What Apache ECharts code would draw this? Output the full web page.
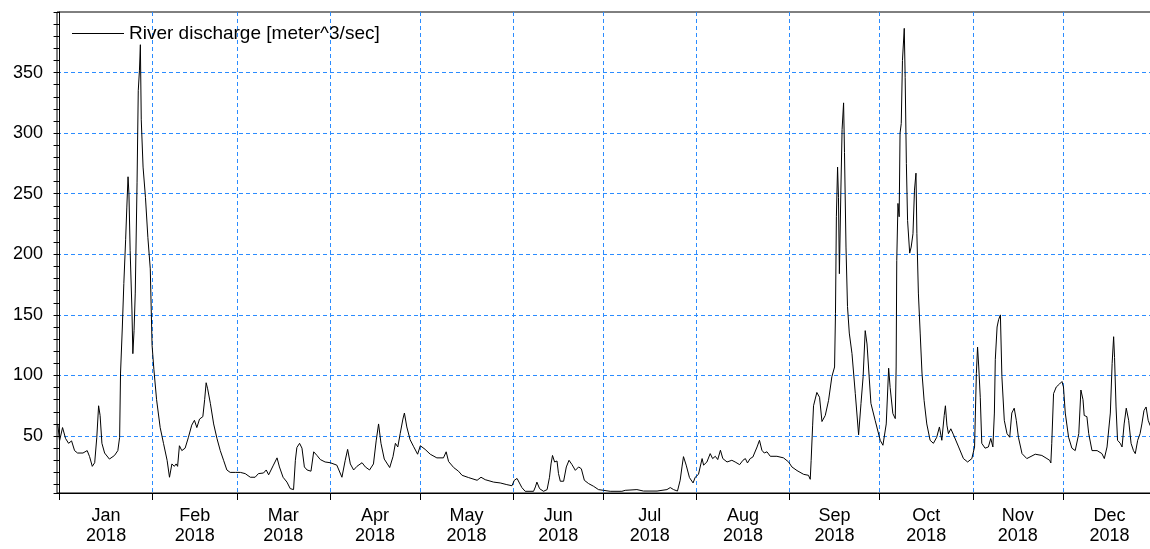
<!DOCTYPE html>
<html>
<head>
<meta charset="utf-8">
<script src="https://cdn.jsdelivr.net/npm/echarts@6.0.0/dist/echarts.min.js"></script>
</head>
<body style="margin:0;background:#fff;">
<div id="main" style="width:1150px;height:549px;"></div>
<script type="text/javascript">
    // day of year 2018 (0 = 1 Jan) and discharge
    var dayOfYear = [
        -0.6, 0, 1, 2, 3, 4, 5, 6, 7.8, 9.2, 10, 10.9, 11.7, 12.4, 13, 13.5, 14.1, 15, 16.6, 18.3, 19.4, 20,
        20.3, 20.9, 21.4, 22, 22.4, 22.8, 23.1, 23.5, 24.1, 24.4, 24.8, 25.2, 25.8, 26.2, 26.6, 26.9, 27.2,
        27.8, 28.6, 29.4, 30.2, 30.8, 31.4, 32.3, 33.5, 34.6, 35.8, 36.6, 37.4, 38.2, 38.8, 39.3, 39.9, 40.7,
        41.8, 42.9, 44, 44.9, 45.7, 46.6, 47.7, 48.3, 48.8, 49.3, 50.2, 51.3, 52.4, 53.5, 54.6, 55.7, 56.8,
        58.5, 60.2, 61.8, 63.5, 65.1, 66.2, 67.9, 68.8, 69.6, 71.2, 72.4, 73.2, 74.4, 75.7, 76.8, 77.9, 78.5,
        79, 79.9, 80.7, 81.5, 82.4, 83.7, 84.6, 85.7, 86.8, 88.4, 90.1,
        92.3, 94, 95.1, 95.9, 96.8, 97.9, 99, 100.7, 101.8, 103.2, 104.5, 105.4, 106.2, 107, 108.1, 109.9,
        111, 111.8, 112.6, 113.4, 114.3, 114.8, 115.6, 116.7, 117.8, 119.2, 120.1, 121.7, 123.4, 125.6,
        127.8, 128.7, 129.5, 131.2, 132.8, 134, 136.2, 139, 140.3, 141.7, 144.5, 146.7, 148.9, 150.6,
        151.4, 152.3, 152.8, 153.9, 155, 157.8, 158.4, 158.9, 159.8, 161.1, 162.3, 163.1, 163.6, 164.1,
        164.8, 165.6, 166.1, 166.7, 167.8, 168.7, 169.6, 170.6, 171.7, 172.8, 173.7, 174.7, 176.1, 177.8,
        179.4, 181.1, 183.3, 187.2, 188.3, 192.2, 194.4, 198.9, 202.2, 203.3, 204.4, 205.7, 206.6, 207.2,
        207.7, 208.6, 209.7, 210.9, 211.6, 212.7, 213.9, 214.4, 215.5, 216.6, 217.4, 218.3, 219.1, 220,
        220.8, 222.2, 223.8, 224.9, 226.4, 227.5, 228.3, 229, 229.9, 230.8, 232.2, 233, 233.8, 234.6, 235.5,
        236.6, 238.8, 241, 242.7, 243.8, 245.5, 247.7, 249.3, 249.9, 250.2, 250.7, 251, 252.1, 253, 253.8,
        254.9, 256, 257.1, 258, 258.3, 258.6, 259, 259.3, 259.6, 260.1, 260.5, 261, 261.3, 261.8, 262.3,
        262.9, 263.8, 264.9, 266, 266.8, 267.5, 268.2, 268.8, 269.3, 270.1, 271.5, 273.2, 274.1, 275.2, 276,
        276.5, 277.4, 278.2, 278.5, 278.7, 279.1, 279.5, 279.8, 280.2, 280.6, 281.2, 281.5, 281.9, 282.3,
        283, 283.5, 284.1, 284.6, 285.1, 285.4, 285.9, 286.5, 287.1, 287.8, 288.7, 289.8, 290.9, 292, 292.9,
        293.7, 294.5, 294.9, 295.4, 295.9, 296.7, 297.6, 299.3, 300.9, 302.3, 303.7, 304.6, 305.2, 305.6,
        306, 306.5, 307, 308.1, 309.2, 310, 310.7, 311.2, 311.5, 312.1, 312.6, 313.2, 313.7, 314.5, 315.4,
        316.3, 317, 317.8, 318.5, 319.2, 320.4, 322, 324.8, 327, 328.7, 329.6, 330, 330.3, 330.9, 331.8,
        332.9, 333.7, 334.2, 334.8, 335.9, 337, 338.1, 339.3, 340, 340.7, 341.1, 342, 342.6, 343.7, 345.4,
        347, 347.8, 348.7, 349.8, 350.4, 350.9, 351.2, 351.7, 352.2, 353.1, 353.7, 354.4, 355.1, 355.9,
        356.7, 357.5, 358.1, 358.9, 359.7, 360.3, 361, 361.7, 362.4, 363, 363.5
    ];
    var discharge = [
        60, 46, 57, 48, 44, 46, 38, 36, 36, 38, 33, 25, 28, 49, 75, 67, 44, 36, 31, 34, 38, 49,
        102, 140, 176, 212, 239, 264, 250, 203, 154, 118, 137, 168, 259, 335, 352, 373, 311,
        272, 247, 214, 188, 125, 105, 80, 57, 44, 30, 16, 27, 25, 27, 25, 42, 38,
        40, 49, 59, 63, 57, 64, 66, 80, 94, 89, 77, 60, 48, 38, 30, 22, 20,
        20, 20, 19, 16, 16, 19, 19.5, 22, 18, 26, 32, 24.5, 16, 12, 6.6, 5.8, 30,
        40.5, 44, 40, 24.5, 22, 21, 37, 34, 30.6, 28.6, 28,
        26, 16, 30, 39, 27, 22, 25, 28, 24.5, 22, 27, 46, 60, 44, 31, 24,
        33, 44, 41, 52, 64, 69, 57.5, 47, 41.6, 35, 42, 39, 35, 32,
        32, 37, 29, 24, 21, 17.6, 15.7, 13.5, 16, 14, 12, 11.3, 9.9, 9,
        13.5, 15, 13.5, 7.5, 4.4, 4.4, 8, 12, 6.6, 4.4, 5.8, 16, 27, 34,
        28.6, 29.4, 19, 12.7, 12.7, 24.5, 30, 26.4, 21.7, 24.5, 23, 13.5, 10.8, 8.5,
        5.8, 5.2, 4.4, 4.4, 5.2, 5.8, 4.6, 4.6, 5.8, 7.5, 5.8, 4.6, 13.5, 24.5,
        33, 26, 15.7, 11.3, 16, 18.4, 31.4, 26, 28.6, 35.5, 31.4, 33.3, 30.6, 38.3,
        31.4, 28.6, 30, 28.6, 26.4, 30, 31.4, 27.8, 31.4, 32.7, 41, 46.5, 38.3, 36, 37,
        33.3, 33.3, 32, 28.6, 24.5, 21.5, 18.4, 17.6, 14.3, 30, 59, 75, 86, 82, 62,
        67, 79.5, 99, 107, 151, 231, 272, 247, 184, 253, 303, 325, 284, 206, 157,
        135, 118, 85, 51, 77, 99, 137, 126, 107, 77, 63, 46.5, 42.4, 60, 106,
        90, 68.6, 64.4, 107, 195, 242, 231, 300, 308, 360, 386.5, 346, 275, 228,
        201, 206, 217, 253, 267, 217, 168, 135, 102, 79.5, 60, 46.5, 44, 49, 57.5,
        46.5, 67, 75, 59, 52, 56, 51, 41, 31.4, 28.6, 31.4, 41, 101.6, 123.5,
        107, 82, 44, 40, 41, 48, 41, 69, 113, 140, 146, 150, 99, 63, 52,
        49, 69, 73, 63, 49, 35.5, 31.4, 35, 34, 31.4, 30, 27.8, 44, 85, 90.5,
        93, 95, 90.5, 69, 49, 40, 38, 52, 88, 80, 67, 66, 52, 38, 38,
        35.5, 31.4, 41, 69, 110, 132, 115, 74, 46.5, 44, 41, 60, 73, 63,
        44, 38, 35.5, 46.5, 52, 60, 71, 74, 63, 59, 57
    ];
    var monthNames = ['Jan', 'Feb', 'Mar', 'Apr', 'May', 'Jun', 'Jul', 'Aug', 'Sep', 'Oct', 'Nov', 'Dec'];
    var monthStarts = [0, 31, 59, 90, 120, 151, 181, 212, 243, 273, 304, 334, 365];
    var yearLabel = '2018';

    var monthMids = [];
    for (var i = 0; i < 12; i++) {
        monthMids.push((monthStarts[i] + monthStarts[i + 1]) / 2);
    }
    var seriesData = [];
    for (var k = 0; k < dayOfYear.length; k++) {
        seriesData.push([dayOfYear[k], discharge[k]]);
    }

    var font = 'Liberation Sans, Arial, sans-serif';
    var blue = '#2b8cff';
    var myChart = echarts.init(document.getElementById('main'));
    var option = {
        backgroundColor: '#fff',
        animation: false,
        grid: {
            left: 57, right: -9, top: 12, bottom: 56,
            outerBoundsMode: 'none',
            containLabel: false,
            show: true, borderColor: '#000', borderWidth: 1
        },
        legend: {
            left: 72, top: 24, padding: 0,
            icon: 'rect',
            itemWidth: 52, itemHeight: 1,
            textStyle: {color: '#000', fontSize: 19, fontFamily: font},
            data: ['River discharge [meter^3/sec]']
        },
        xAxis: {
            type: 'value',
            min: -0.85,
            max: 366,
            axisLine: {lineStyle: {color: '#000', width: 1}},
            axisTick: {
                show: true, length: 7, customValues: monthStarts,
                lineStyle: {color: '#000'}
            },
            axisLabel: {
                customValues: monthMids,
                margin: 13,
                color: '#000',
                fontSize: 18,
                fontFamily: font,
                lineHeight: 20,
                formatter: function (val) {
                    var idx = monthMids.indexOf(val);
                    return monthNames[idx] + '\n' + yearLabel;
                }
            },
            splitLine: {
                show: true,
                lineStyle: {color: blue, type: [4, 3], width: 1}
            }
        },
        yAxis: {
            type: 'value',
            min: 3,
            max: 400,
            splitNumber: 8,
            axisLine: {show: true, lineStyle: {color: '#000', width: 1}},
            axisTick: {show: true, length: 6, lineStyle: {color: '#000'}},
            minorTick: {show: true, splitNumber: 5, length: 6, lineStyle: {color: '#000'}},
            axisLabel: {
                margin: 14,
                color: '#000',
                fontSize: 18,
                fontFamily: font,
                showMinLabel: false,
                showMaxLabel: false
            },
            splitLine: {
                show: true,
                showMinLine: false,
                showMaxLine: false,
                lineStyle: {color: blue, type: [4, 3], width: 1}
            }
        },
        series: [{
            name: 'River discharge [meter^3/sec]',
            type: 'line',
            data: seriesData,
            symbol: 'none',
            lineStyle: {color: '#000', width: 1},
            itemStyle: {color: '#000'}
        }]
    };
    myChart.setOption(option);
</script>
</body>
</html>
